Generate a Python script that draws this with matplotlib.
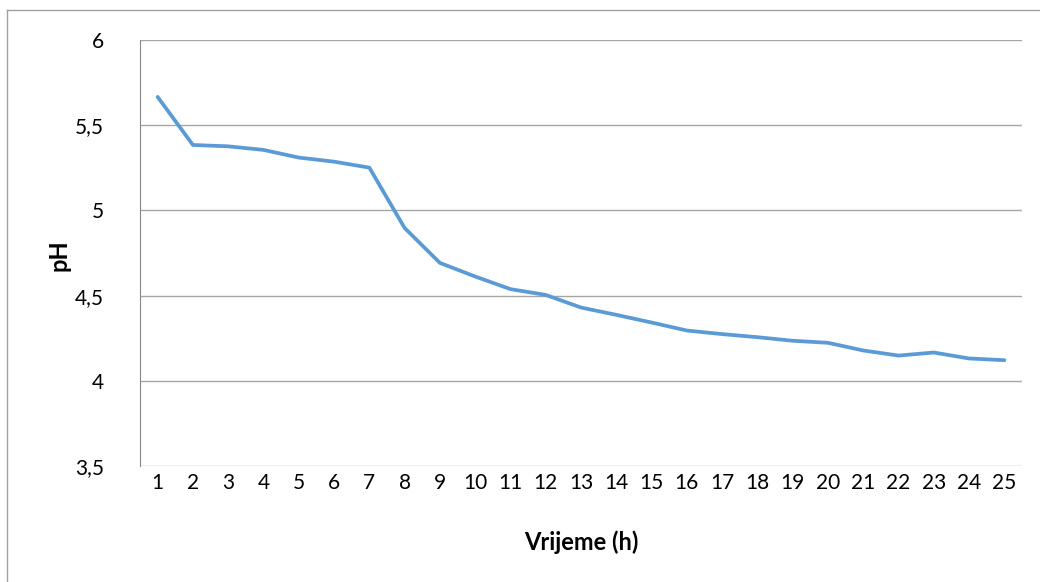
import matplotlib
matplotlib.use("Agg")
from matplotlib import pyplot as plt
from matplotlib.lines import Line2D

# pH measured every hour
hours = list(range(1, 26))
ph = [5.666, 5.384, 5.376, 5.355, 5.31, 5.286, 5.251, 4.897, 4.692, 4.612,
      4.538, 4.504, 4.43, 4.387, 4.342, 4.295, 4.274, 4.256, 4.235, 4.223,
      4.178, 4.148, 4.166, 4.131, 4.121]
yTicks = [3.5, 4, 4.5, 5, 5.5, 6]
yTickLabels = ["3,5", "4", "4,5", "5", "5,5", "6"]

plt.rcParams['font.family'] = ['Lato', 'DejaVu Sans']

W, H = 1040, 582
fig = plt.figure(figsize=(W / 100, H / 100), dpi=100)
ax = fig.add_axes([140 / W, 1 - 466 / H, 882 / W, 426 / H])

#outer chart frame (only top and left edges fall inside the image)
fig.lines.append(Line2D([7 / W, 7 / W], [0, 1 - 10 / H], transform=fig.transFigure,
                        color='#a0a0a0', linewidth=1.0))
fig.lines.append(Line2D([7 / W, 1], [1 - 10 / H, 1 - 10 / H], transform=fig.transFigure,
                        color='#a0a0a0', linewidth=1.0))

ax.plot(hours, ph, color='#5B9BD5', linewidth=2.7, solid_capstyle='round',
        solid_joinstyle='round', zorder=3)

ax.set_xlim(0.5, 25.5)
ax.set_ylim(3.5, 6)
ax.set_yticks(yTicks)
ax.set_yticklabels(yTickLabels)
ax.set_xticks(hours)
ax.set_xticklabels([str(h) for h in hours])
ax.yaxis.grid(True, color='#a6a6a6', linewidth=1.0)
ax.set_axisbelow(True)

for side in ['top', 'right', 'bottom']:
    ax.spines[side].set_visible(False)
ax.spines['left'].set_color('#868686')
ax.tick_params(axis='both', length=0, labelsize=15, colors='black')
ax.tick_params(axis='y', pad=26)
ax.tick_params(axis='x', pad=5)

ax.set_xlabel('Vrijeme (h)', fontsize=17, fontweight='bold')
ax.set_ylabel('pH', fontsize=17, fontweight='bold')
ax.xaxis.set_label_coords(0.5, (466 - 542) / 426)
ax.yaxis.set_label_coords((59 - 140) / 882, 0.495)
ax.xaxis.label.set_va('center')
ax.yaxis.label.set_va('center')

fig.savefig('out.png', dpi=100)
